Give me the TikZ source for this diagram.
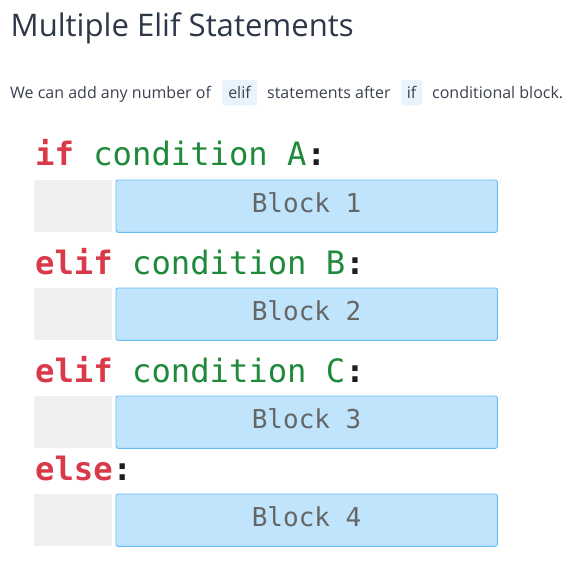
\documentclass[tikz,border=0pt]{standalone}
\usepackage{fontspec}
\setmainfont{Open Sans}
\setmonofont{DejaVu Sans Mono}
\definecolor{titlec}{HTML}{2D3748}
\definecolor{subc}{HTML}{3C4150}
\definecolor{chipbg}{HTML}{E8F4FD}
\definecolor{kwred}{HTML}{D93A4A}
\definecolor{condgreen}{HTML}{1F8A3B}
\definecolor{colonc}{HTML}{1E1E1E}
\definecolor{indentc}{HTML}{EFEFEF}
\definecolor{blockfill}{HTML}{C0E4FC}
\definecolor{blockdraw}{HTML}{64BEF5}
\definecolor{blocktext}{HTML}{666666}
\tikzset{
  subtext/.style={anchor=base west, inner sep=0pt, text=subc, font=\fontsize{16}{19}\selectfont},
  chip/.style={fill=chipbg, rounded corners=2pt, draw=none},
  chiptext/.style={anchor=base, inner sep=0pt, text=subc, font=\fontsize{16}{19}\selectfont},
  header/.style={anchor=base west, inner sep=0pt, font=\ttfamily\fontsize{32.2}{37}\selectfont},
  indentbox/.style={fill=indentc, draw=none},
  blockbox/.style={fill=blockfill, draw=blockdraw, line width=0.9pt, rounded corners=2pt},
  blocklabel/.style={anchor=base, inner sep=0pt, text=blocktext, font=\ttfamily\fontsize{26}{30}\selectfont},
}
\begin{document}
\begin{tikzpicture}[x=1pt,y=-1pt]
\useasboundingbox (0,0) rectangle (583,566);
% title
\node[anchor=base west, inner sep=0pt, text=titlec, font=\fontsize{31.1}{37}\selectfont] (title) at (10.5,36.7) {Multiple Elif Statements};
% subtitle
\node[subtext] (s1) at (10,98.3) {We can add any number of};
\fill[chip] (222,80) rectangle (257,105.3);
\node[chiptext] (c1) at (239.5,98.3) {elif};
\node[subtext] (s2) at (267,98.3) {statements after};
\fill[chip] (401.3,80) rectangle (422,105.3);
\node[chiptext] (c2) at (411.6,98.3) {if};
\node[subtext] (s3) at (432,98.3) {conditional block.};
% headers
\node[header] (h1) at (35,165) {\textcolor{kwred}{\bfseries if} \textcolor{condgreen}{condition A}\textcolor{colonc}{\bfseries :}};
\node[header] (h2) at (35,274) {\textcolor{kwred}{\bfseries elif} \textcolor{condgreen}{condition B}\textcolor{colonc}{\bfseries :}};
\node[header] (h3) at (35,382) {\textcolor{kwred}{\bfseries elif} \textcolor{condgreen}{condition C}\textcolor{colonc}{\bfseries :}};
\node[header] (h4) at (35,480) {\textcolor{kwred}{\bfseries else}\textcolor{colonc}{\bfseries :}};
% blocks
\foreach \t/\n in {180/1,288/2,396/3,494/4}{
  \fill[indentbox] (34.3,\t) rectangle (112,\t+52.3);
  \draw[blockbox] (116,\t) rectangle (497.3,\t+52.3);
  \node[blocklabel] (b\n) at (306.6,\t+32.7) {Block \n};
}
\end{tikzpicture}
\end{document}
